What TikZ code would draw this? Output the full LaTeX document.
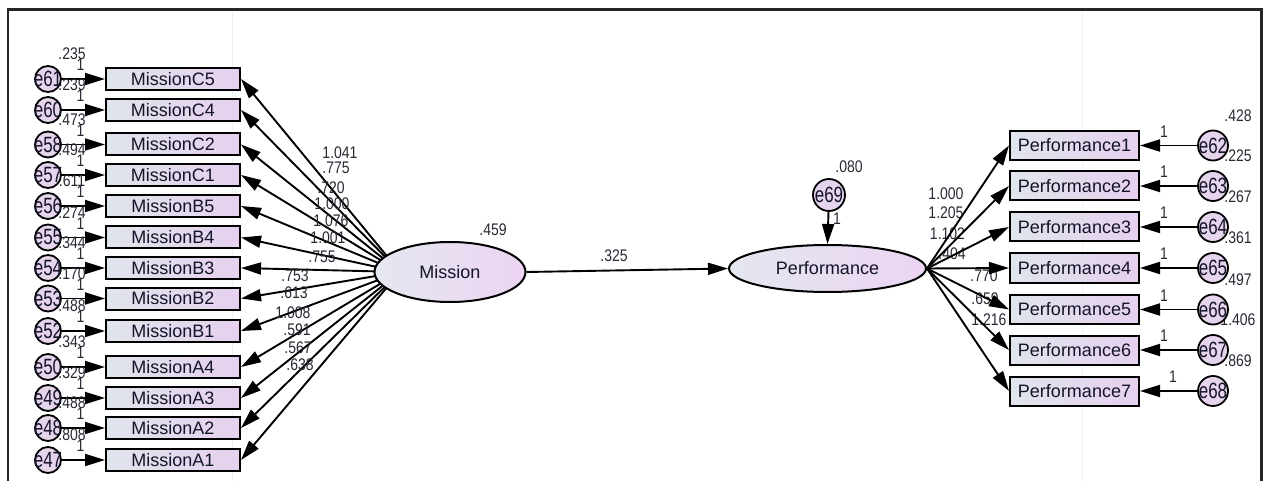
\documentclass[tikz,border=0pt]{standalone}
\usepackage{fontspec}
\usepackage{graphicx}
\setmainfont{Liberation Sans}
\usetikzlibrary{arrows.meta,shapes.geometric,backgrounds}
\definecolor{boxL}{RGB}{224,229,236}
\definecolor{boxR}{RGB}{230,208,238}
\definecolor{ellL}{RGB}{228,231,240}
\definecolor{ellR}{RGB}{236,212,242}
\definecolor{errC}{RGB}{230,212,236}
\definecolor{txtc}{RGB}{20,20,40}
\definecolor{numc}{RGB}{40,40,52}
\newcommand\ez[1]{\makebox[0pt]{\scalebox{1}[1.3]{#1}}}
\newcommand\nm[1]{\scalebox{1}[1.2]{#1}}
\begin{document}
\begin{tikzpicture}[x=1pt,y=-1pt,
 obsL/.style={draw=black,line width=2pt,left color=boxL,right color=boxR,minimum width=134pt,minimum height=22pt,inner sep=0pt,font=\fontsize{18}{18}\selectfont,text=txtc},
 obsR/.style={obsL,minimum width=129pt,minimum height=29pt},
 errL/.style={circle,draw=black,line width=1.8pt,fill=errC,minimum size=26pt,inner sep=0pt,font=\fontsize{17}{17}\selectfont,text=txtc},
 errR/.style={errL,minimum size=30pt},
 lat/.style={ellipse,draw=black,line width=2pt,left color=ellL,right color=ellR,inner sep=0pt,font=\fontsize{18}{18}\selectfont,text=txtc},
 num/.style={font=\fontsize{14}{14}\selectfont,text=numc,inner sep=0pt},
 arr/.style={line width=1.9pt,draw=black,-{Triangle[length=20pt,width=12pt]}}
]
\useasboundingbox (0,0) rectangle (1264,481);
% faint guide lines
\draw[gray!12,line width=0.8pt] (232,10) -- (232,481);
\draw[gray!12,line width=0.8pt] (1082,10) -- (1082,481);
% frame
\draw[line width=2.2pt,black!85] (8,490) -- (8,9.5) -- (1261.5,9.5) -- (1261.5,490);

% numeric labels (left side)
\foreach \e/\y/\v in {61/79/.235, 60/110/.239, 58/144.5/.473, 57/175/.494, 56/206/.611, 55/237.5/.274, 54/268/.344, 53/298.5/.170, 52/331/.488, 50/367/.343, 49/398/.329, 48/428/.488, 47/460/.808}{
  \node[num] (v\e) at (72,\y-25) {\nm{\v}};
  \node[num] (o\e) at (80.5,\y-14) {\nm{1}};
}
% numeric labels (right side)
\foreach \e/\y/\v/\ox in {62/145.5/.428/1164, 63/186/.225/1164, 64/227/.267/1164, 65/268/.361/1164, 66/309.5/.497/1164, 67/350/1.406/1164, 68/391/.869/1173}{
  \node[num] (v\e) at (1238,\y-30) {\nm{\v}};
  \node[num] (o\e) at (\ox,\y-14) {\nm{1}};
}
% loadings
\foreach \k/\x/\y/\v in {1/340/153/1.041, 2/336/168/.775, 3/331/188/.720, 4/332/204/1.000, 5/331/221/1.076, 6/328/238/1.001, 7/322/257/.755, 8/295/276/.753, 9/294/293/.613, 10/293/313/1.008, 11/297/330/.591, 12/298/348/.567, 13/300/365/.638}{
  \node[num] (lm\k) at (\x,\y) {\nm{\v}};
}
\foreach \k/\x/\y/\v in {1/946/194/1.000, 2/946/213/1.205, 3/947.5/234/1.102, 4/952/254/.404, 5/984/276/.770, 6/985/299/.659, 7/989/320/1.216}{
  \node[num] (lp\k) at (\x,\y) {\nm{\v}};
}
\node[num] (vmis) at (493,230) {\nm{.459}};
\node[num] (beta) at (614,256) {\nm{.325}};
\node[num] (v69) at (849,167) {\nm{.080}};
\node[num] (o69) at (837,219) {\nm{1}};

% left observed and error nodes
\foreach \n/\e/\y in {C5/61/79, C4/60/110, C2/58/144.5, C1/57/175, B5/56/206, B4/55/237.5, B3/54/268, B2/53/298.5, B1/52/331, A4/50/367, A3/49/398, A2/48/428, A1/47/460}{
  \node[obsL] (M\n) at (173,\y) {Mission\n};
  \node[errL] (e\e) at (48,\y) {\ez{e\e}};
}
% right observed and error nodes
\foreach \n/\e/\y in {1/62/145.5, 2/63/186, 3/64/227, 4/65/268, 5/66/309.5, 6/67/350, 7/68/391}{
  \node[obsR] (P\n) at (1074.5,\y) {Performance\n};
  \node[errR] (e\e) at (1213,\y) {\ez{e\e}};
}
% latent variables
\node[lat,minimum width=151pt,minimum height=60pt] (mission) at (450,272) {Mission};
\node[lat,minimum width=197pt,minimum height=47pt] (perf) at (827.5,268.5) {Performance};
\node[errL,minimum size=32pt] (e69) at (829,195) {\ez{e69}};
\coordinate (mfoc) at (400,272);

\begin{scope}[on background layer]
\foreach \n/\e in {C5/61, C4/60, C2/58, C1/57, B5/56, B4/55, B3/54, B2/53, B1/52, A4/50, A3/49, A2/48, A1/47}{
  \draw[arr] (e\e) -- (M\n);
  \draw[arr] (mfoc) -- (M\n.east);
}
\end{scope}
\foreach \n/\e in {1/62, 2/63, 3/64, 4/65, 5/66, 6/67, 7/68}{
  \draw[arr] (e\e) -- (P\n);
  \draw[arr] (perf.east) -- (P\n.west);
}
\draw[arr] (mission.east) -- (perf.west);
\draw[arr] (e69) -- (perf.north);
\end{tikzpicture}
\end{document}
